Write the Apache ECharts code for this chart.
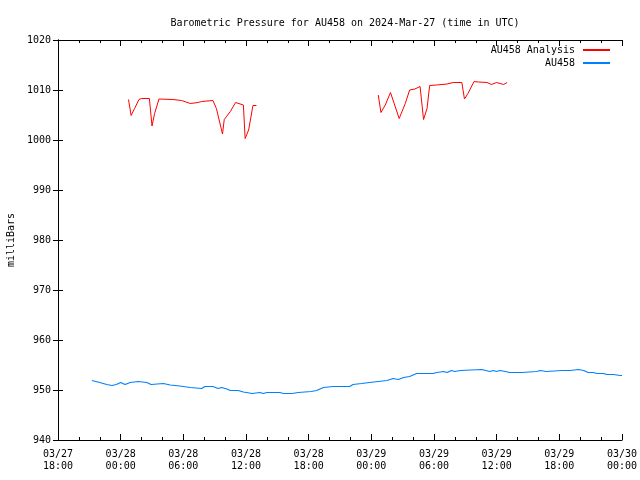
<!DOCTYPE html>
<html>
<head>
<meta charset="utf-8">
<script src="https://cdn.jsdelivr.net/npm/echarts@6/dist/echarts.min.js"></script>
<style>html,body{margin:0;padding:0;background:#fff}#c{width:640px;height:480px}</style>
</head>
<body>
<div id="c"></div>
<script>
var titleText = 'Barometric Pressure for AU458 on 2024-Mar-27 (time in UTC)';
var yName = 'milliBars';
var seriesNames = ['AU458 Analysis', 'AU458'];
var startTime = '2024-03-27 18:00';
var endTime = '2024-03-30 00:00';
var yMin = 940, yMax = 1020, yStep = 10;
var xStepHours = 6;

var redTimes = [
'03-28 00:45','03-28 01:00','03-28 01:20','03-28 01:45','03-28 02:00','03-28 02:45','03-28 03:00','03-28 03:15','03-28 03:40','03-28 05:00',
'03-28 05:50','03-28 06:40','03-28 07:25','03-28 07:45','03-28 08:50','03-28 09:10','03-28 09:45','03-28 09:55','03-28 10:30','03-28 11:00',
'03-28 11:45','03-28 11:55','03-28 12:15','03-28 12:40','03-28 13:00',
'03-28 18:00',
'03-29 00:40','03-29 00:55','03-29 01:20','03-29 01:50','03-29 02:40','03-29 03:15','03-29 03:40','03-29 04:10','03-29 04:40','03-29 05:00',
'03-29 05:20','03-29 05:35','03-29 06:15','03-29 07:15','03-29 07:50','03-29 08:40','03-29 08:55','03-29 09:15','03-29 09:50','03-29 10:15',
'03-29 11:05','03-29 11:30','03-29 12:00','03-29 12:40','03-29 13:00'
];
var redValues = [
1008.1,1004.9,1006.3,1008.1,1008.3,1008.3,1002.8,1005.3,1008.2,1008.1,
1007.9,1007.3,1007.5,1007.7,1007.9,1006.3,1001.2,1004.1,1005.7,1007.5,
1007.0,1000.3,1002.0,1006.9,1006.9,
null,
1009.0,1005.5,1007.0,1009.5,1004.3,1007.3,1010.0,1010.2,1010.7,1004.1,
1006.3,1010.9,1011.0,1011.2,1011.5,1011.5,1008.2,1009.3,1011.7,1011.6,
1011.5,1011.1,1011.5,1011.1,1011.5
];

var blueTimes = [
'03-27 21:15','03-27 22:00','03-27 22:40','03-27 23:10','03-27 23:35','03-28 00:00','03-28 00:25','03-28 00:55','03-28 01:40','03-28 02:30',
'03-28 02:55','03-28 03:05','03-28 04:05','03-28 04:45','03-28 05:40','03-28 06:40','03-28 07:45','03-28 08:05','03-28 08:50','03-28 09:20',
'03-28 09:40','03-28 10:10','03-28 10:30','03-28 11:15','03-28 11:45','03-28 12:35','03-28 13:20','03-28 13:40','03-28 14:00','03-28 15:15',
'03-28 15:35','03-28 16:25','03-28 17:00','03-28 17:10','03-28 18:15','03-28 18:45','03-28 19:25','03-28 20:20','03-28 21:55','03-28 22:15',
'03-28 23:05','03-28 23:50','03-29 00:40','03-29 01:30','03-29 02:05','03-29 02:35','03-29 03:05','03-29 03:40','03-29 04:20','03-29 05:30',
'03-29 05:35','03-29 05:55','03-29 06:15','03-29 06:55','03-29 07:15','03-29 07:40','03-29 08:00','03-29 08:30','03-29 08:40','03-29 10:35',
'03-29 10:45','03-29 11:20','03-29 11:40','03-29 12:00','03-29 12:20','03-29 12:50','03-29 13:15','03-29 14:25','03-29 14:35','03-29 15:50',
'03-29 16:10','03-29 16:45','03-29 18:15','03-29 19:00','03-29 19:50','03-29 20:20','03-29 20:45','03-29 21:15','03-29 21:35','03-29 22:15',
'03-29 22:30','03-29 23:10','03-29 23:50','03-30 00:00'
];
var blueValues = [
951.9,951.5,951.1,950.9,951.1,951.5,951.1,951.5,951.7,951.5,
951.1,951.3,951.3,951.0,950.8,950.5,950.3,950.7,950.7,950.3,
950.5,950.2,949.9,949.9,949.6,949.3,949.5,949.3,949.5,949.5,
949.3,949.3,949.5,949.7,949.7,949.9,950.5,950.7,950.7,951.1,
951.3,951.5,951.7,951.9,952.3,952.1,952.5,952.7,953.3,953.3,
953.5,953.3,953.5,953.7,953.5,953.9,953.7,953.9,954.1,954.1,
953.9,953.7,953.9,953.7,953.9,953.7,953.5,953.5,953.7,953.7,
953.9,953.7,953.9,953.9,954.1,953.9,953.5,953.5,953.3,953.3,
953.1,953.1,952.9,952.9
];

function parseT(s) {
  var full = s.length > 11 ? s : '2024-' + s;
  var p = full.split(/[- :]/);
  return Date.UTC(+p[0], +p[1] - 1, +p[2], +p[3], +p[4]);
}
var t0 = parseT(startTime);
function hrs(s) { return (parseT(s) - t0) / 3600000; }
var xMax = hrs(endTime);
function pad(n) { return (n < 10 ? '0' : '') + n; }
function fmtX(v) {
  var d = new Date(t0 + v * 3600000);
  return pad(d.getUTCMonth() + 1) + '/' + pad(d.getUTCDate()) + '\n' + pad(d.getUTCHours()) + ':' + pad(d.getUTCMinutes());
}
function fmtY(v) { return String(v); }
function pairs(ts, vs) {
  return ts.map(function (t, i) { return [hrs(t), vs[i]]; });
}

var FONT = 'DejaVu Sans Mono';
var FS = 10;
var axisLine = { show: true, lineStyle: { color: '#000', width: 1 } };

var chart = echarts.init(document.getElementById('c'), null, { renderer: 'canvas' });
chart.setOption({
  animation: false,
  backgroundColor: '#fff',
  textStyle: { fontFamily: FONT, color: '#000' },
  title: {
    text: titleText, left: 340, top: 13, textAlign: 'center',
    textStyle: { fontFamily: FONT, fontSize: FS, fontWeight: 'normal', color: '#000' }
  },
  legend: {
    data: seriesNames, orient: 'vertical', right: 30, top: 43.5, align: 'right',
    padding: 0, itemGap: 0, itemWidth: 27, itemHeight: 2, icon: 'rect',
    textStyle: { fontFamily: FONT, fontSize: FS, color: '#000', lineHeight: 13, padding: [0, 3, 0, 0] }
  },
  grid: { left: 58, right: 18, top: 40, bottom: 40, containLabel: false, outerBoundsMode: 'none' },
  xAxis: [{
    type: 'value', min: 0, max: xMax, interval: xStepHours,
    axisLine: axisLine,
    axisTick: { show: true, inside: true, length: 6, lineStyle: { color: '#000' } },
    minorTick: { show: true, splitNumber: 3, length: 3, lineStyle: { color: '#000' } },
    splitLine: { show: false },
    axisLabel: { formatter: fmtX, fontFamily: FONT, fontSize: FS, color: '#000', lineHeight: 12, margin: 8, showMinLabel: true, showMaxLabel: true }
  }, {
    type: 'value', position: 'top', min: 0, max: xMax, interval: xStepHours,
    axisLine: axisLine,
    axisTick: { show: true, inside: true, length: 6, lineStyle: { color: '#000' } },
    minorTick: { show: true, splitNumber: 3, length: 3, lineStyle: { color: '#000' } },
    splitLine: { show: false }, axisLabel: { show: false }
  }],
  yAxis: [{
    type: 'value', min: yMin, max: yMax, interval: yStep,
    name: yName, nameLocation: 'middle', nameRotate: 90, nameGap: 42,
    nameTextStyle: { fontFamily: FONT, fontSize: FS, color: '#000' },
    axisLine: axisLine,
    axisTick: { show: true, inside: true, length: 5, lineStyle: { color: '#000' } },
    splitLine: { show: false },
    axisLabel: { formatter: fmtY, fontFamily: FONT, fontSize: FS, color: '#000', margin: 7 }
  }, {
    type: 'value', position: 'right', min: yMin, max: yMax, interval: yStep,
    axisLine: axisLine,
    axisTick: { show: true, inside: true, length: 5, lineStyle: { color: '#000' } },
    splitLine: { show: false }, axisLabel: { show: false }
  }],
  series: [{
    name: seriesNames[0], type: 'line', xAxisIndex: 0, yAxisIndex: 0,
    data: pairs(redTimes, redValues), showSymbol: false, connectNulls: false,
    itemStyle: { color: '#ff0000' }, lineStyle: { color: '#ff0000', width: 1 }
  }, {
    name: seriesNames[1], type: 'line', xAxisIndex: 0, yAxisIndex: 0,
    data: pairs(blueTimes, blueValues), showSymbol: false,
    itemStyle: { color: '#0080ff' }, lineStyle: { color: '#0080ff', width: 1.2 }
  }]
});
</script>
</body>
</html>
